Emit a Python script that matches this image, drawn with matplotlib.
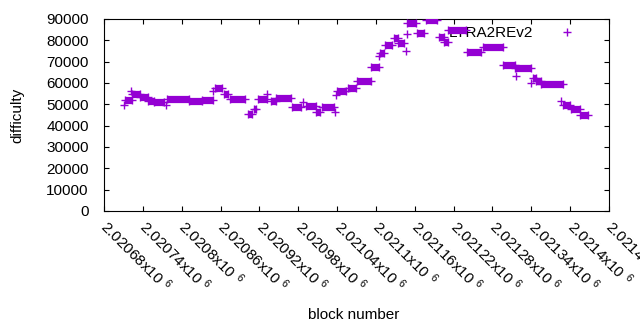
import matplotlib
matplotlib.use('Agg')
import matplotlib.pyplot as plt
import numpy as np

plt.rcParams['font.family'] = ['Liberation Sans', 'DejaVu Sans']
plt.rcParams['mathtext.fontset'] = 'custom'
plt.rcParams['mathtext.rm'] = 'Liberation Sans'

# runs of blocks with the same difficulty (first block, last block, difficulty)
seg_start = [2020712, 2020723, 2020735, 2020748, 2020757, 2020778, 2020811, 2020831,
             2020851, 2020865, 2020875, 2020902, 2020911, 2020918, 2020938, 2020946,
             2020971, 2020992, 2021008, 2021017, 2021040, 2021057, 2021071, 2021092,
             2021106, 2021114, 2021128, 2021134, 2021148, 2021163, 2021177, 2021197,
             2021205, 2021212, 2021240, 2021265, 2021297, 2021315, 2021342, 2021348,
             2021355, 2021389, 2021402, 2021415]
seg_end = [2020723, 2020735, 2020748, 2020757, 2020772, 2020811, 2020831, 2020848,
           2020863, 2020871, 2020898, 2020909, 2020915, 2020931, 2020945, 2020969,
           2020985, 2021008, 2021014, 2021035, 2021054, 2021069, 2021092, 2021105,
           2021112, 2021125, 2021134, 2021143, 2021162, 2021174, 2021194, 2021205,
           2021212, 2021239, 2021263, 2021297, 2021315, 2021339, 2021348, 2021355,
           2021389, 2021400, 2021415, 2021428]
seg_diff = [52170, 54840, 53300, 51700, 50950, 52400, 51420, 51890,
            57520, 54750, 52500, 45330, 47670, 52500, 51420, 52970,
            48520, 49220, 46270, 48610, 56110, 57520, 60800, 67640,
            73830, 77580, 80950, 78610, 87980, 83300, 89530, 81470,
            79360, 84840, 74670, 76730, 68300, 67170, 62200, 61170,
            59390, 49690, 47670, 44860]

# single outlying blocks
pt_block = [2020711, 2020722, 2020775, 2020848, 2020932, 2020988, 2021037, 2021039,
            2021105, 2021146, 2021148, 2021317, 2021339, 2021386]
pt_diff = [49830, 56390, 49550, 56250, 54840, 51090, 46270, 54380,
           72890, 75000, 82830, 63280, 59860, 51700]

xticks = np.arange(2020680, 2021461, 60)
xlabels = ['$\\mathregular{%gx10\\ ^{6}}$' % (t / 1e6) for t in xticks]
yticks = np.arange(0, 90001, 10000)

color = '#9400D3'

fig = plt.figure(figsize=(6.4, 3.3), dpi=100)
ax = fig.add_axes([104/640, 1-211/330, 505/640, 192/330])

ax.hlines(seg_diff, seg_start, seg_end, colors=color, linewidth=5.2, zorder=3)
ax.plot(seg_start + seg_end + pt_block, seg_diff + seg_diff + pt_diff, '+',
        color=color, markersize=5.5, markeredgewidth=1.0, linestyle='none', zorder=3)
ax.plot([], [], '+', color=color, markersize=5.5, markeredgewidth=1.0, label='LYRA2REv2')

ax.set_xlim(2020680, 2021460)
ax.set_ylim(0, 90000)
ax.set_xticks(xticks)
ax.set_xticklabels(xlabels, rotation=-45, ha='left', va='center', rotation_mode='anchor')
ax.set_yticks(yticks)
ax.tick_params(direction='in', length=3.5, width=0.8, top=True, right=True, labelsize=11)
ax.tick_params(axis='x', pad=9)
ax.tick_params(axis='y', pad=11)
for s in ax.spines.values():
    s.set_linewidth(0.8)

leg = ax.legend(loc='upper right', bbox_to_anchor=(0.947, 0.962), markerfirst=False, frameon=False,
                fontsize=11, handletextpad=1.2, borderpad=0, borderaxespad=0)
leg.set_zorder(1)

fig.text(17/640, 1-115/330, 'difficulty', rotation=90, ha='center', va='center', fontsize=11)
fig.text(354/640, 1-315/330, 'block number', ha='center', va='center', fontsize=11)

fig.savefig('out.png', dpi=100)
